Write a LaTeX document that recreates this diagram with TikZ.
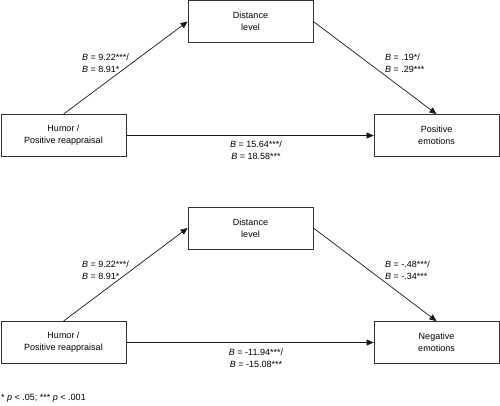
\documentclass[tikz,border=0pt]{standalone}
\usepackage{fontspec}
\setmainfont{Liberation Sans}
\usetikzlibrary{arrows.meta}
\begin{document}
\begin{tikzpicture}[
    x=1bp, y=-1bp,
    var/.style={
        rectangle,
        minimum width=125bp,
        minimum height=42bp,
        inner sep=0pt,
        draw=black!80,
        line width=0.8bp,
        align=center,
        font=\fontsize{9bp}{12bp}\selectfont
    },
    coef/.style={
        anchor=west,
        inner sep=0pt,
        align=left,
        font=\fontsize{9bp}{12bp}\selectfont
    },
    effect/.style={
        draw=black!90,
        line width=0.7bp,
        -{Triangle[length=7bp,width=6bp]}
    }
]
\useasboundingbox (0,0) rectangle (500,405);

% positive emotions model
\node[var] (dist1) at (250.5,21.5) {Distance\\level};
\node[var] (humor1) at (63.5,135.5) {Humor /\\Positive reappraisal};
\node[var] (pos) at (436.5,135.5) {Positive\\emotions};

\draw[effect] (humor1.north) -- (dist1.west);
\draw[effect] (dist1.east) -- (pos.north);
\draw[effect] (humor1.east) -- (pos.west);

\node[coef] (a1) at (82,63) {\textit{B} = 9.22***/\\\textit{B} = 8.91*};
\node[coef] (b1) at (385,63) {\textit{B} = .19*/\\\textit{B} = .29***};
\node[coef, anchor=center, align=center] (c1) at (256,150) {\textit{B} = 15.64***/\\\textit{B} = 18.58***};

% negative emotions model
\node[var] (dist2) at (250.5,228) {Distance\\level};
\node[var] (humor2) at (63.5,342.5) {Humor /\\Positive reappraisal};
\node[var] (neg) at (436.5,342.5) {Negative\\emotions};

\draw[effect] (humor2.north) -- (dist2.west);
\draw[effect] (dist2.east) -- (neg.north);
\draw[effect] (humor2.east) -- (neg.west);

\node[coef] (a2) at (82,270) {\textit{B} = 9.22***/\\\textit{B} = 8.91*};
\node[coef] (b2) at (385,270) {\textit{B} = -.48***/\\\textit{B} = -.34***};
\node[coef, anchor=center, align=center] (c2) at (256,358) {\textit{B} = -11.94***/\\\textit{B} = -15.08***};

\node[coef] (note) at (1,398) {* \textit{p} < .05; *** \textit{p} < .001};

\end{tikzpicture}
\end{document}
